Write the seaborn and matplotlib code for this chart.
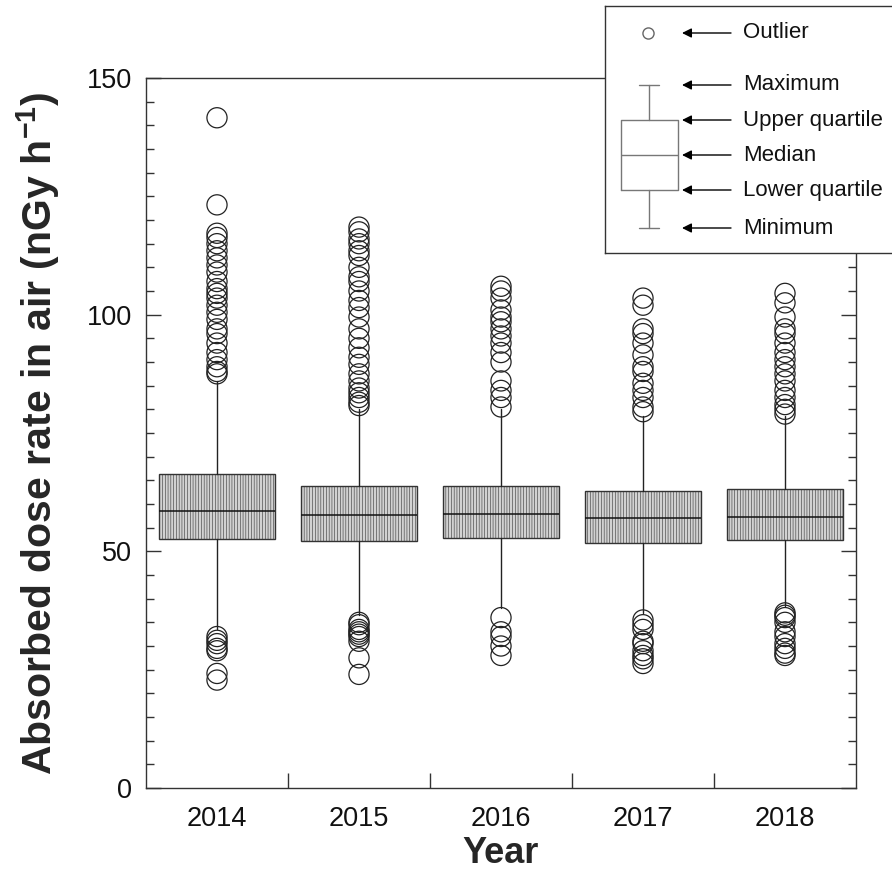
import numpy as np
import pandas as pd
import seaborn as sns
import matplotlib.pyplot as plt
from matplotlib.ticker import MultipleLocator, FixedLocator

years = ['2014', '2015', '2016', '2017', '2018']

q1 = [52.6, 52.2, 52.8, 51.8, 52.5]
median = [58.5, 57.7, 57.9, 57.0, 57.2]
q3 = [66.4, 63.7, 63.9, 62.7, 63.1]
whisker_low = [33.5, 36.5, 38.0, 37.0, 38.5]
whisker_high = [86.0, 80.0, 80.0, 78.5, 78.5]

outliers_2014 = [141.6, 123.2, 117.2, 116.3, 115.0, 113.5, 112.0, 110.5, 109.0,
                 107.0, 105.5, 104.5, 103.5, 102.0, 100.5, 99.0, 97.0, 96.0,
                 94.0, 92.0, 90.5, 89.0, 88.0, 87.5,
                 32.0, 31.2, 30.5, 29.5, 29.0, 24.2, 22.8]
outliers_2015 = [118.5, 117.5, 116.0, 115.0, 113.5, 112.5, 110.0, 108.0, 107.0,
                 105.0, 103.0, 101.5, 99.5, 97.0, 95.0, 93.0, 91.0, 89.5, 87.5,
                 86.0, 84.5, 83.5, 82.5, 81.5, 80.8,
                 35.0, 34.5, 33.5, 33.0, 32.5, 32.0, 31.0, 27.5, 24.0]
outliers_2016 = [106.0, 105.0, 103.5, 101.0, 99.5, 98.5, 97.0, 95.5, 94.0, 92.0,
                 90.0, 86.0, 84.0, 82.5, 80.5,
                 36.0, 33.0, 32.0, 30.0, 28.0]
outliers_2017 = [103.5, 102.0, 97.0, 96.0, 94.0, 91.5, 89.0, 88.0, 85.5, 84.0,
                 82.5, 80.5, 79.5,
                 35.5, 34.5, 33.5, 31.0, 30.5, 29.0, 28.0, 27.3, 26.3]
outliers_2018 = [104.5, 102.5, 99.5, 97.0, 96.0, 94.0, 92.0, 90.5, 89.0, 87.5,
                 86.0, 84.0, 82.5, 81.0, 80.0, 79.0,
                 37.0, 36.5, 36.0, 35.0, 33.0, 32.0, 30.5, 29.5, 28.5, 28.0]

legend_labels = ['Outlier', 'Maximum', 'Upper quartile', 'Median',
                 'Lower quartile', 'Minimum']

sns.set_style('white')
plt.rcParams['font.family'] = ['Liberation Sans', 'DejaVu Sans']
plt.rcParams['mathtext.fontset'] = 'custom'
plt.rcParams['mathtext.rm'] = 'Liberation Sans'
plt.rcParams['mathtext.bf'] = 'Liberation Sans:bold'
plt.rcParams['hatch.linewidth'] = 0.4
plt.rcParams['hatch.color'] = '#8a8a8a'

fig = plt.figure(figsize=(8.92, 8.88), dpi=100)
ax = fig.add_axes([146 / 892, 100 / 888, 710 / 892, 710 / 888])

all_outliers = [outliers_2014, outliers_2015, outliers_2016,
                outliers_2017, outliers_2018]
out_df = pd.DataFrame({
    'year': np.repeat(years, [len(o) for o in all_outliers]),
    'value': np.concatenate(all_outliers),
})

sns.stripplot(data=out_df, x='year', y='value', order=years, jitter=False,
              marker='o', size=14.5, linewidth=0.9, edgecolor='#222222',
              color='white', ax=ax, zorder=3)
for coll in ax.collections:
    coll.set_facecolor('none')

stats = []
for i, yr in enumerate(years):
    stats.append({'label': yr, 'med': median[i], 'q1': q1[i], 'q3': q3[i],
                  'whislo': whisker_low[i], 'whishi': whisker_high[i],
                  'fliers': []})
bp = ax.bxp(stats, positions=range(len(years)), widths=0.81, showcaps=False,
            showfliers=False, patch_artist=True,
            boxprops=dict(facecolor='#d2d2d2', edgecolor='#333333',
                          linewidth=1.0),
            medianprops=dict(color='#111111', linewidth=1.1),
            whiskerprops=dict(color='#222222', linewidth=1.0))
for box in bp['boxes']:
    box.set_hatch('||||||')

ax.set_xlim(-0.5, 4.5)
ax.set_ylim(0, 150)
ax.set_xticks(range(len(years)))
ax.set_xticklabels(years)
ax.xaxis.set_minor_locator(FixedLocator([0.5, 1.5, 2.5, 3.5]))
ax.set_yticks([0, 50, 100, 150])
ax.yaxis.set_minor_locator(MultipleLocator(5))

ax.tick_params(axis='x', which='major', length=0, pad=13, labelsize=19.5,
               colors='#111111')
ax.tick_params(axis='x', which='minor', direction='in', length=11, width=1,
               color='#333333', bottom=True, top=False)
ax.tick_params(axis='y', which='major', direction='in', length=11, width=1,
               left=True, right=True, pad=10, labelsize=19.5, color='#333333',
               labelcolor='#111111')
ax.tick_params(axis='y', which='minor', direction='in', length=6, width=1,
               left=True, right=True, color='#333333')
for sp in ax.spines.values():
    sp.set_color('#333333')
    sp.set_linewidth(1.0)

ax.set_xlabel('Year', fontsize=26, fontweight='bold')
ax.set_ylabel(r'Absorbed dose rate in air (nGy h$^{\mathbf{-1}}$)',
              fontsize=29.5, fontweight='bold')
ax.xaxis.set_label_coords(0.5, -0.068)
ax.yaxis.set_label_coords(-0.118, 0.5)

# legend panel (drawn in pixel units of the panel)
lw_px, lh_px = 300, 247
lax = fig.add_axes([605 / 892, (888 - 253) / 888, lw_px / 892, lh_px / 888])
lax.set_xlim(0, lw_px)
lax.set_ylim(lh_px, 0)
lax.set_xticks([])
lax.set_yticks([])
lax.set_facecolor('white')
for sp in lax.spines.values():
    sp.set_color('#333333')
    sp.set_linewidth(1.0)

row_y = [27, 79, 114, 149, 184, 222]
lax.bxp([{'med': row_y[3], 'q1': row_y[4], 'q3': row_y[2],
          'whislo': row_y[5], 'whishi': row_y[1], 'fliers': []}],
        positions=[44], widths=57, showfliers=False, capwidths=20,
        boxprops=dict(color='#777777', linewidth=1.0),
        medianprops=dict(color='#777777', linewidth=1.0),
        whiskerprops=dict(color='#777777', linewidth=1.0),
        capprops=dict(color='#777777', linewidth=1.0), manage_ticks=False)
lax.plot([43], [row_y[0]], marker='o', markersize=8, mfc='white',
         mec='#666666', mew=1.0, linestyle='none')
for y, lab in zip(row_y, legend_labels):
    lax.annotate('', xy=(77, y), xytext=(126, y),
                 arrowprops=dict(arrowstyle='-|>', color='black', lw=1.0,
                                 mutation_scale=14, shrinkA=0, shrinkB=0))
    lax.text(138, y, lab, fontsize=16, va='center', ha='left',
             color='#111111')

plt.savefig('out.png', dpi=100)
